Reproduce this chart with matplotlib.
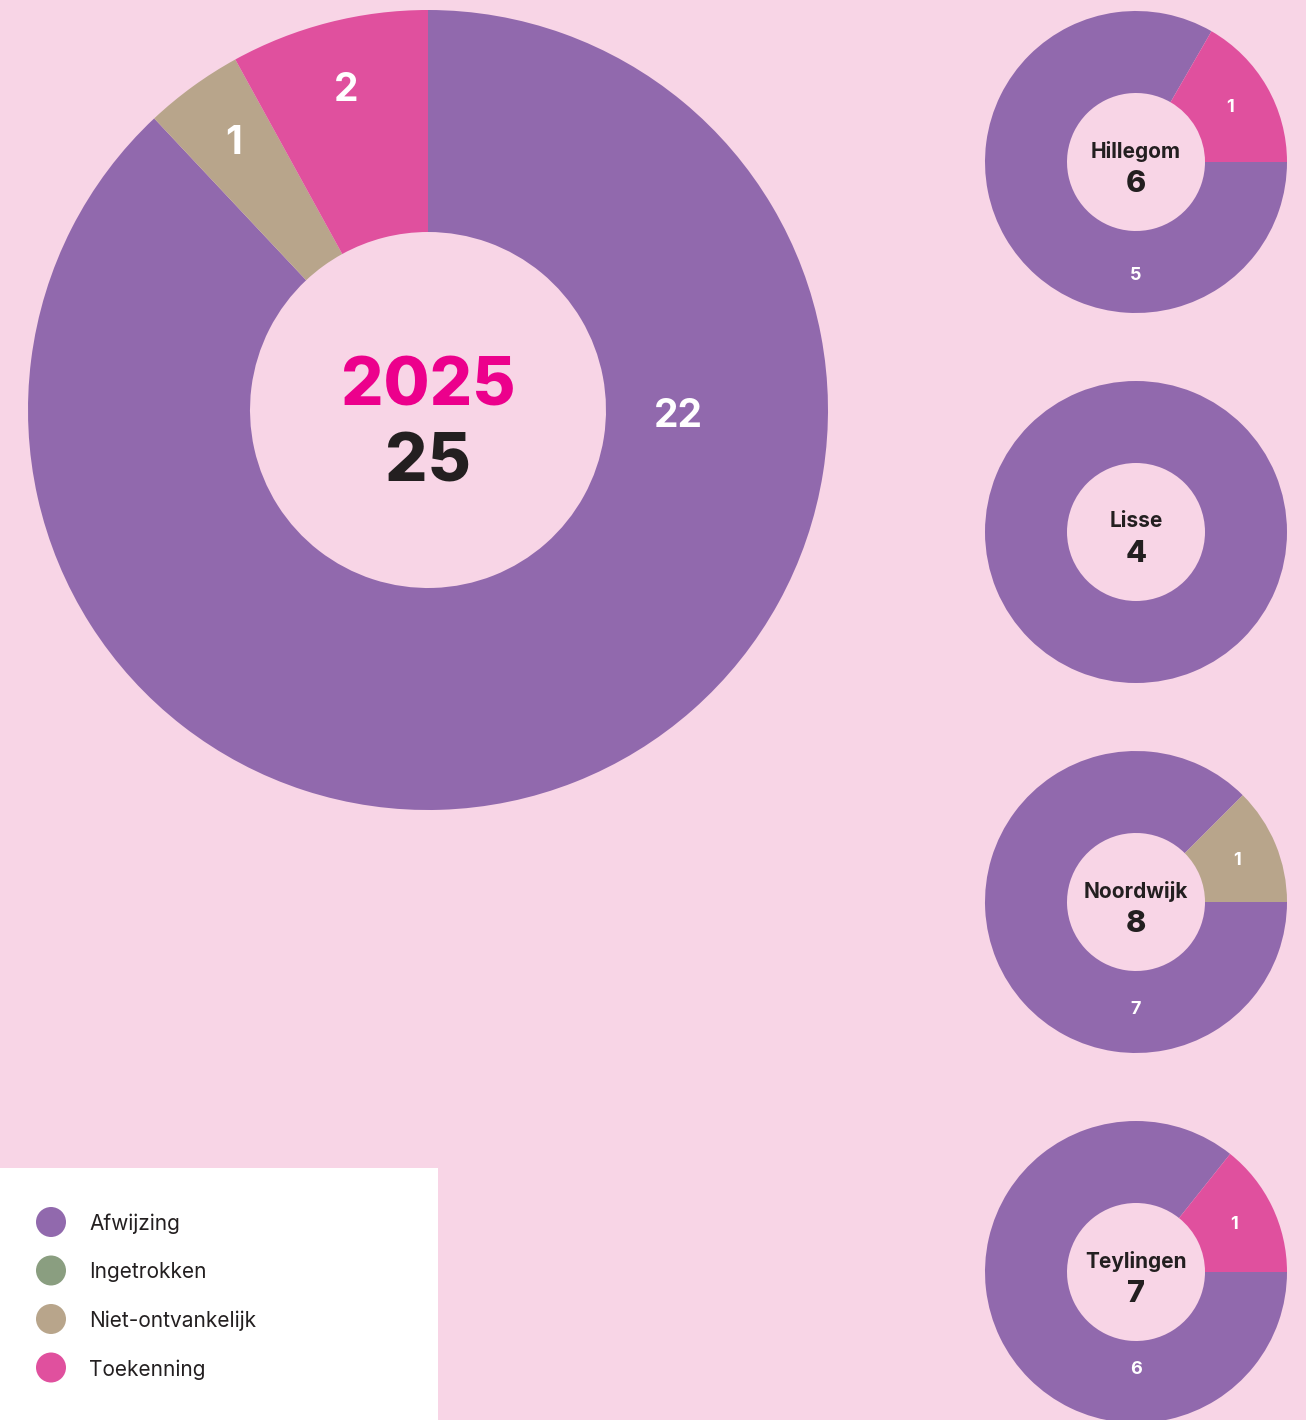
import numpy as np
import matplotlib
matplotlib.use("Agg")
import matplotlib.pyplot as plt
from matplotlib.patches import Rectangle, Circle

# --- Data -------------------------------------------------------------------
categories = ["Afwijzing", "Ingetrokken", "Niet-ontvankelijk", "Toekenning"]
jaar = "2025"
totaal = [22, 0, 1, 2]

gemeenten = ["Hillegom", "Lisse", "Noordwijk", "Teylingen"]
hillegom = [5, 0, 0, 1]
lisse = [4, 0, 0, 0]
noordwijk = [7, 0, 1, 0]
teylingen = [6, 0, 0, 1]
per_gemeente = [hillegom, lisse, noordwijk, teylingen]

# --- Style ------------------------------------------------------------------
BG = "#F8D5E6"
COLORS = ["#9169AD", "#8A9E80", "#B8A58B", "#E0509E"]
MAGENTA = "#EC008C"
DARK = "#231F20"
FONT = ["Inter", "DejaVu Sans"]

W, H = 1306, 1420
plt.rcParams["font.family"] = FONT


def py(y):
    # image-style y (top down) to axes y
    return H - y


def donut(ax, values, cx, cy, r_out, r_in, start, main_angle, main_r, minor_r, fs):
    ax.pie(values, colors=COLORS, startangle=start, counterclock=False,
           center=(cx, py(cy)), radius=r_out, frame=True,
           wedgeprops=dict(width=r_out - r_in, linewidth=0))
    total = sum(values)
    nonzero = [v for v in values if v > 0]
    if len(nonzero) < 2:
        return
    biggest = int(np.argmax(values))
    cum = 0
    for i, v in enumerate(values):
        if v > 0:
            if i == biggest:
                ang, r = main_angle, main_r
            else:
                ang = start - (cum + v / 2) / total * 360
                r = minor_r
            x = cx + r * np.cos(np.radians(ang))
            y = py(cy) + r * np.sin(np.radians(ang))
            ax.text(x, y, str(v), color="white", fontsize=fs, fontweight="bold",
                    ha="center", va="center")
        cum += v


fig = plt.figure(figsize=(W / 100, H / 100), dpi=100, facecolor=BG)
ax = fig.add_axes([0, 0, 1, 1])
ax.set_facecolor(BG)

# big donut: all municipalities together
donut(ax, totaal, 428, 410, 400, 178, 90, -1.5, 250, 330, 28)
ax.text(428, py(388), jaar, color=MAGENTA, fontsize=48, fontweight="heavy",
        ha="center", va="center")
ax.text(428, py(464), str(sum(totaal)), color=DARK, fontsize=48, fontweight="heavy",
        ha="center", va="center")

# small donuts per municipality (radius of the big-slice label differs a bit)
centers_y = [162, 532, 902, 1272]
main_radius = [114, 112, 108, 98]
for naam, vals, cy, mr in zip(gemeenten, per_gemeente, centers_y, main_radius):
    donut(ax, vals, 1136, cy, 151, 69, 0, -90, mr, 109, 13)
    ax.text(1136, py(cy - 11), naam, color=DARK, fontsize=15, fontweight="bold",
            ha="center", va="center")
    ax.text(1136, py(cy + 22), str(sum(vals)), color=DARK, fontsize=22,
            fontweight="heavy", ha="center", va="center")

# legend panel
ax.add_patch(Rectangle((0, 0), 438, H - 1168, facecolor="white", edgecolor="none",
                       zorder=3))
for i, (cat, col) in enumerate(zip(categories, COLORS)):
    ly = py(1222 + i * 48.5)
    ax.add_patch(Circle((51, ly), 15, facecolor=col, edgecolor="none", zorder=4))
    ax.text(89, ly - 2, cat, color=DARK, fontsize=15, ha="left", va="center", zorder=5)

ax.set_xlim(0, W)
ax.set_ylim(0, H)
ax.set_aspect("auto")
ax.axis("off")

fig.savefig("out.png", dpi=100, facecolor=BG)
